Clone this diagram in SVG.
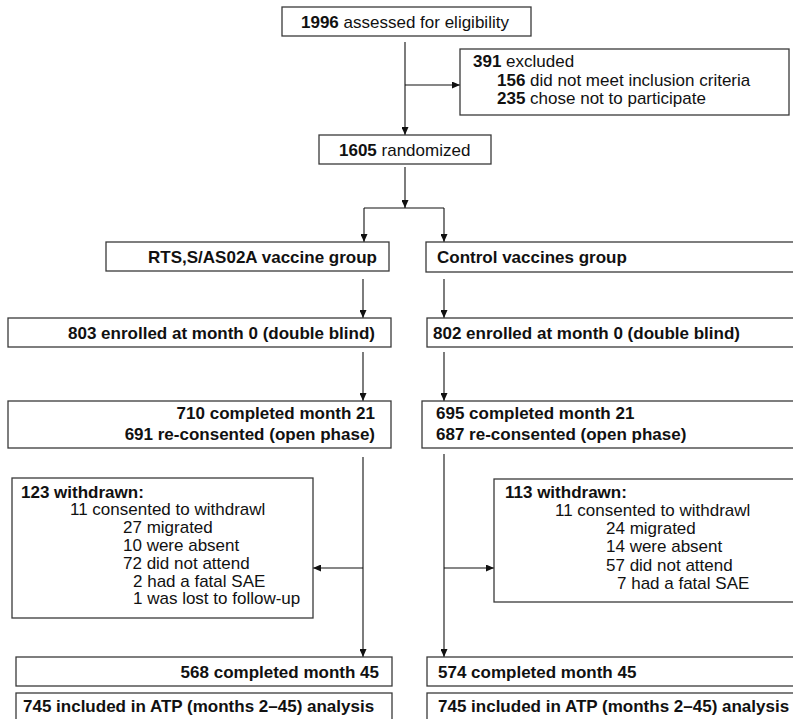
<svg xmlns="http://www.w3.org/2000/svg" width="793" height="719" viewBox="0 0 793 719">
<defs>
<marker id="arr" markerUnits="userSpaceOnUse" markerWidth="8" markerHeight="7" refX="8" refY="3.5" orient="auto">
<path d="M0,0 L8,3.5 L0,7 z" fill="#111"/>
</marker>
<style>
.box{fill:#fff;stroke:#3a3a3a;stroke-width:1.3}
.t{font-family:"Liberation Sans",Arial,sans-serif;font-size:17px;fill:#111}
.b{font-weight:bold}
.ln{fill:none;stroke:#111;stroke-width:1.1}
.arw{fill:none;stroke:#111;stroke-width:1.1;marker-end:url(#arr)}
</style>
</defs>
<rect width="793" height="719" fill="#fff"/>
<g id="connectors">
<line class="arw" x1="405" y1="42" x2="405" y2="135"/>
<line class="arw" x1="405" y1="85" x2="460" y2="85"/>
<line class="arw" x1="405" y1="167" x2="405" y2="208"/>
<polyline class="ln" points="364,208 444,208"/>
<line class="arw" x1="364" y1="208" x2="364" y2="242"/>
<line class="arw" x1="444" y1="208" x2="444" y2="242"/>
<line class="arw" x1="363" y1="279" x2="363" y2="318"/>
<line class="arw" x1="444" y1="279" x2="444" y2="318"/>
<line class="arw" x1="363" y1="352" x2="363" y2="401"/>
<line class="arw" x1="444" y1="352" x2="444" y2="401"/>
<line class="arw" x1="363" y1="457" x2="363" y2="657"/>
<line class="arw" x1="363" y1="568" x2="313" y2="568"/>
<line class="arw" x1="444" y1="454" x2="444" y2="657"/>
<line class="arw" x1="444" y1="568" x2="494" y2="568"/>
</g>
<g id="assessed">
<rect class="box" x="282" y="7" width="249" height="29"/>
<text class="t" x="301" y="27.5"><tspan class="b">1996</tspan> assessed for eligibility</text>
</g>
<g id="excluded">
<rect class="box" x="460" y="49" width="329" height="66"/>
<text class="t" x="473" y="67"><tspan class="b">391</tspan> excluded</text>
<text class="t" x="497" y="85.5"><tspan class="b">156</tspan> did not meet inclusion criteria</text>
<text class="t" x="497" y="104"><tspan class="b">235</tspan> chose not to participate</text>
</g>
<g id="randomized">
<rect class="box" x="319" y="135" width="172" height="29"/>
<text class="t" x="339" y="155.5"><tspan class="b">1605</tspan> randomized</text>
</g>
<g id="rts-group">
<rect class="box" x="106" y="242" width="283" height="29"/>
<text class="t b" x="377" y="262.5" text-anchor="end">RTS,S/AS02A vaccine group</text>
</g>
<g id="control-group">
<rect class="box" x="426" y="242" width="380" height="30"/>
<text class="t b" x="437" y="262.5">Control vaccines group</text>
</g>
<g id="rts-enrolled">
<rect class="box" x="8" y="318" width="383" height="29"/>
<text class="t b" x="375" y="338.5" text-anchor="end">803 enrolled at month 0 (double blind)</text>
</g>
<g id="control-enrolled">
<rect class="box" x="427" y="318" width="380" height="29"/>
<text class="t b" x="433" y="338.5">802 enrolled at month 0 (double blind)</text>
</g>
<g id="rts-month21">
<rect class="box" x="8" y="401" width="383" height="47"/>
<text class="t b" x="375" y="418.5" text-anchor="end">710 completed month 21</text>
<text class="t b" x="375" y="439.5" text-anchor="end">691 re-consented (open phase)</text>
</g>
<g id="control-month21">
<rect class="box" x="422" y="401" width="385" height="47"/>
<text class="t b" x="436" y="418.5">695 completed month 21</text>
<text class="t b" x="436" y="439.5">687 re-consented (open phase)</text>
</g>
<g id="rts-withdrawn">
<rect class="box" x="12" y="478" width="301" height="140"/>
<text class="t b" x="21" y="497.5">123 withdrawn:</text>
<text class="t" x="70" y="515.3">11 consented to withdrawl</text>
<text class="t" x="123" y="533.1">27 migrated</text>
<text class="t" x="123" y="550.9">10 were absent</text>
<text class="t" x="123" y="568.7">72 did not attend</text>
<text class="t" x="133" y="586.5">2 had a fatal SAE</text>
<text class="t" x="133" y="604.3">1 was lost to follow-up</text>
</g>
<g id="control-withdrawn">
<rect class="box" x="494" y="479" width="313" height="123"/>
<text class="t b" x="505" y="497.5">113 withdrawn:</text>
<text class="t" x="555" y="515.8">11 consented to withdrawl</text>
<text class="t" x="606" y="534.1">24 migrated</text>
<text class="t" x="606" y="552.4">14 were absent</text>
<text class="t" x="606" y="570.7">57 did not attend</text>
<text class="t" x="617" y="589">7 had a fatal SAE</text>
</g>
<g id="rts-month45">
<rect class="box" x="16" y="657" width="376" height="29"/>
<text class="t b" x="379" y="677.5" text-anchor="end">568 completed month 45</text>
</g>
<g id="control-month45">
<rect class="box" x="427" y="657" width="380" height="29"/>
<text class="t b" x="438" y="677.5">574 completed month 45</text>
</g>
<g id="rts-atp">
<rect class="box" x="16" y="693" width="376" height="40"/>
<text class="t b" x="23" y="712">745 included in ATP (months 2–45) analysis</text>
</g>
<g id="control-atp">
<rect class="box" x="427" y="693" width="380" height="40"/>
<text class="t b" x="438" y="712">745 included in ATP (months 2–45) analysis</text>
</g>
</svg>
